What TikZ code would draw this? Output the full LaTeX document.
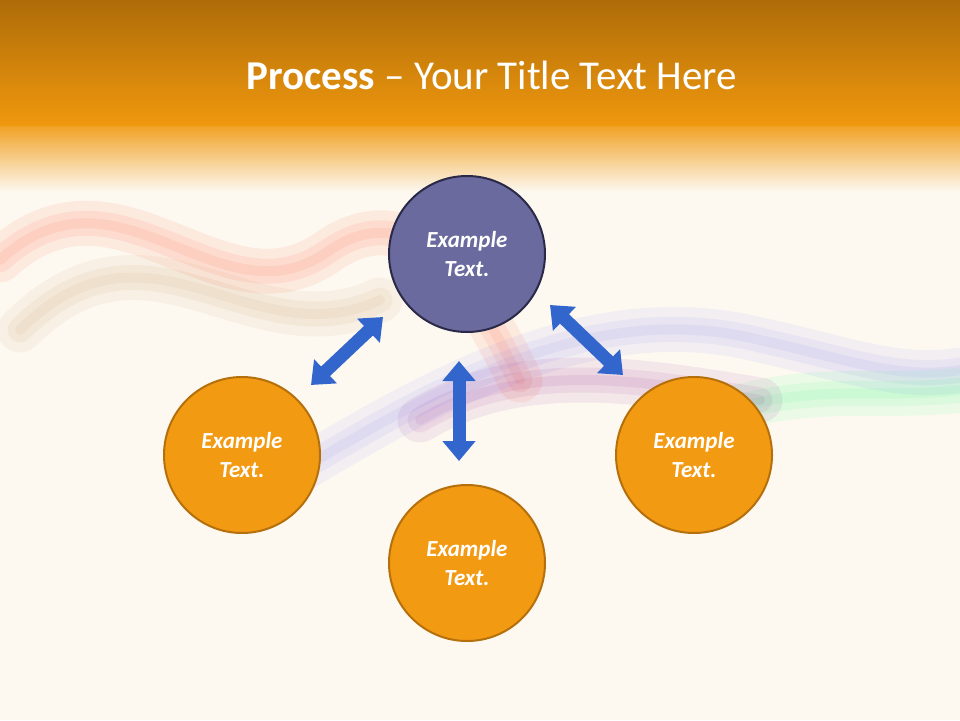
\documentclass[tikz,border=0pt]{standalone}
\usepackage{fontspec}
\setmainfont{Carlito}
\usetikzlibrary{arrows.meta}
\definecolor{bgc}{HTML}{FDF9F1}
\definecolor{hdtop}{HTML}{AE6C08}
\definecolor{hdbot}{HTML}{F0980E}
\definecolor{purp}{HTML}{6A6A9E}
\definecolor{purpd}{HTML}{2A2A48}
\definecolor{orf}{HTML}{F39A13}
\definecolor{ord}{HTML}{B5700C}
\definecolor{arr}{HTML}{3366CC}
\tikzset{
  circ/.style={circle,minimum size=156pt,line width=2pt,text=white,font=\fontsize{23}{29}\selectfont\bfseries\itshape,align=center},
  orc/.style={circ,fill=orf,draw=ord},
  puc/.style={circ,fill=purp,draw=purpd},
  dar/.style={arr,line width=13pt,{Triangle[width=32pt,length=20pt]}-{Triangle[width=32pt,length=20pt]}},
  smoke/.style={line width=#1,opacity=0.07,line cap=round}
}
\begin{document}
\begin{tikzpicture}[x=1pt,y=-1pt]
\useasboundingbox (0,0) rectangle (960,720);
\fill[bgc] (0,0) rectangle (960,720);
% smoke
\foreach \w in {10,25,45}{
\draw[smoke=\w pt,red!70!orange] (0,260) .. controls (120,150) and (220,330) .. (330,250) .. controls (420,190) and (480,300) .. (520,380);
\draw[smoke=\w pt,brown] (20,330) .. controls (150,200) and (250,360) .. (380,300);
\draw[smoke=\w pt,blue!60] (300,470) .. controls (450,380) and (600,300) .. (760,340) .. controls (850,360) and (900,380) .. (960,370);
\draw[smoke=\w pt,green!60!cyan] (700,420) .. controls (800,380) and (880,400) .. (960,390);
\draw[smoke=\w pt,violet] (420,420) .. controls (520,360) and (640,380) .. (760,400);
}
% header
\shade[top color=hdtop,bottom color=hdbot] (0,0) rectangle (960,125);
\shade[top color=hdbot,bottom color=bgc,opacity=0.9] (0,125) rectangle (960,192);
\node[text=white,font=\fontsize{41}{45}\selectfont] (title) at (492,75) {\textbf{Process} – Your Title Text Here};
% circles
\node[puc] (top) at (467,254) {Example\\Text.};
\node[orc] (left) at (242,455) {Example\\Text.};
\node[orc] (bot) at (467,563) {Example\\Text.};
\node[orc] (right) at (694,455) {Example\\Text.};
% arrows
\coordinate (a1) at (311,385); \coordinate (a2) at (383,317);
\coordinate (b1) at (459,361); \coordinate (b2) at (459,461);
\coordinate (c1) at (550,305); \coordinate (c2) at (623,375);
\draw[dar] (a1) -- (a2);
\draw[dar] (b1) -- (b2);
\draw[dar] (c1) -- (c2);
\end{tikzpicture}
\end{document}
